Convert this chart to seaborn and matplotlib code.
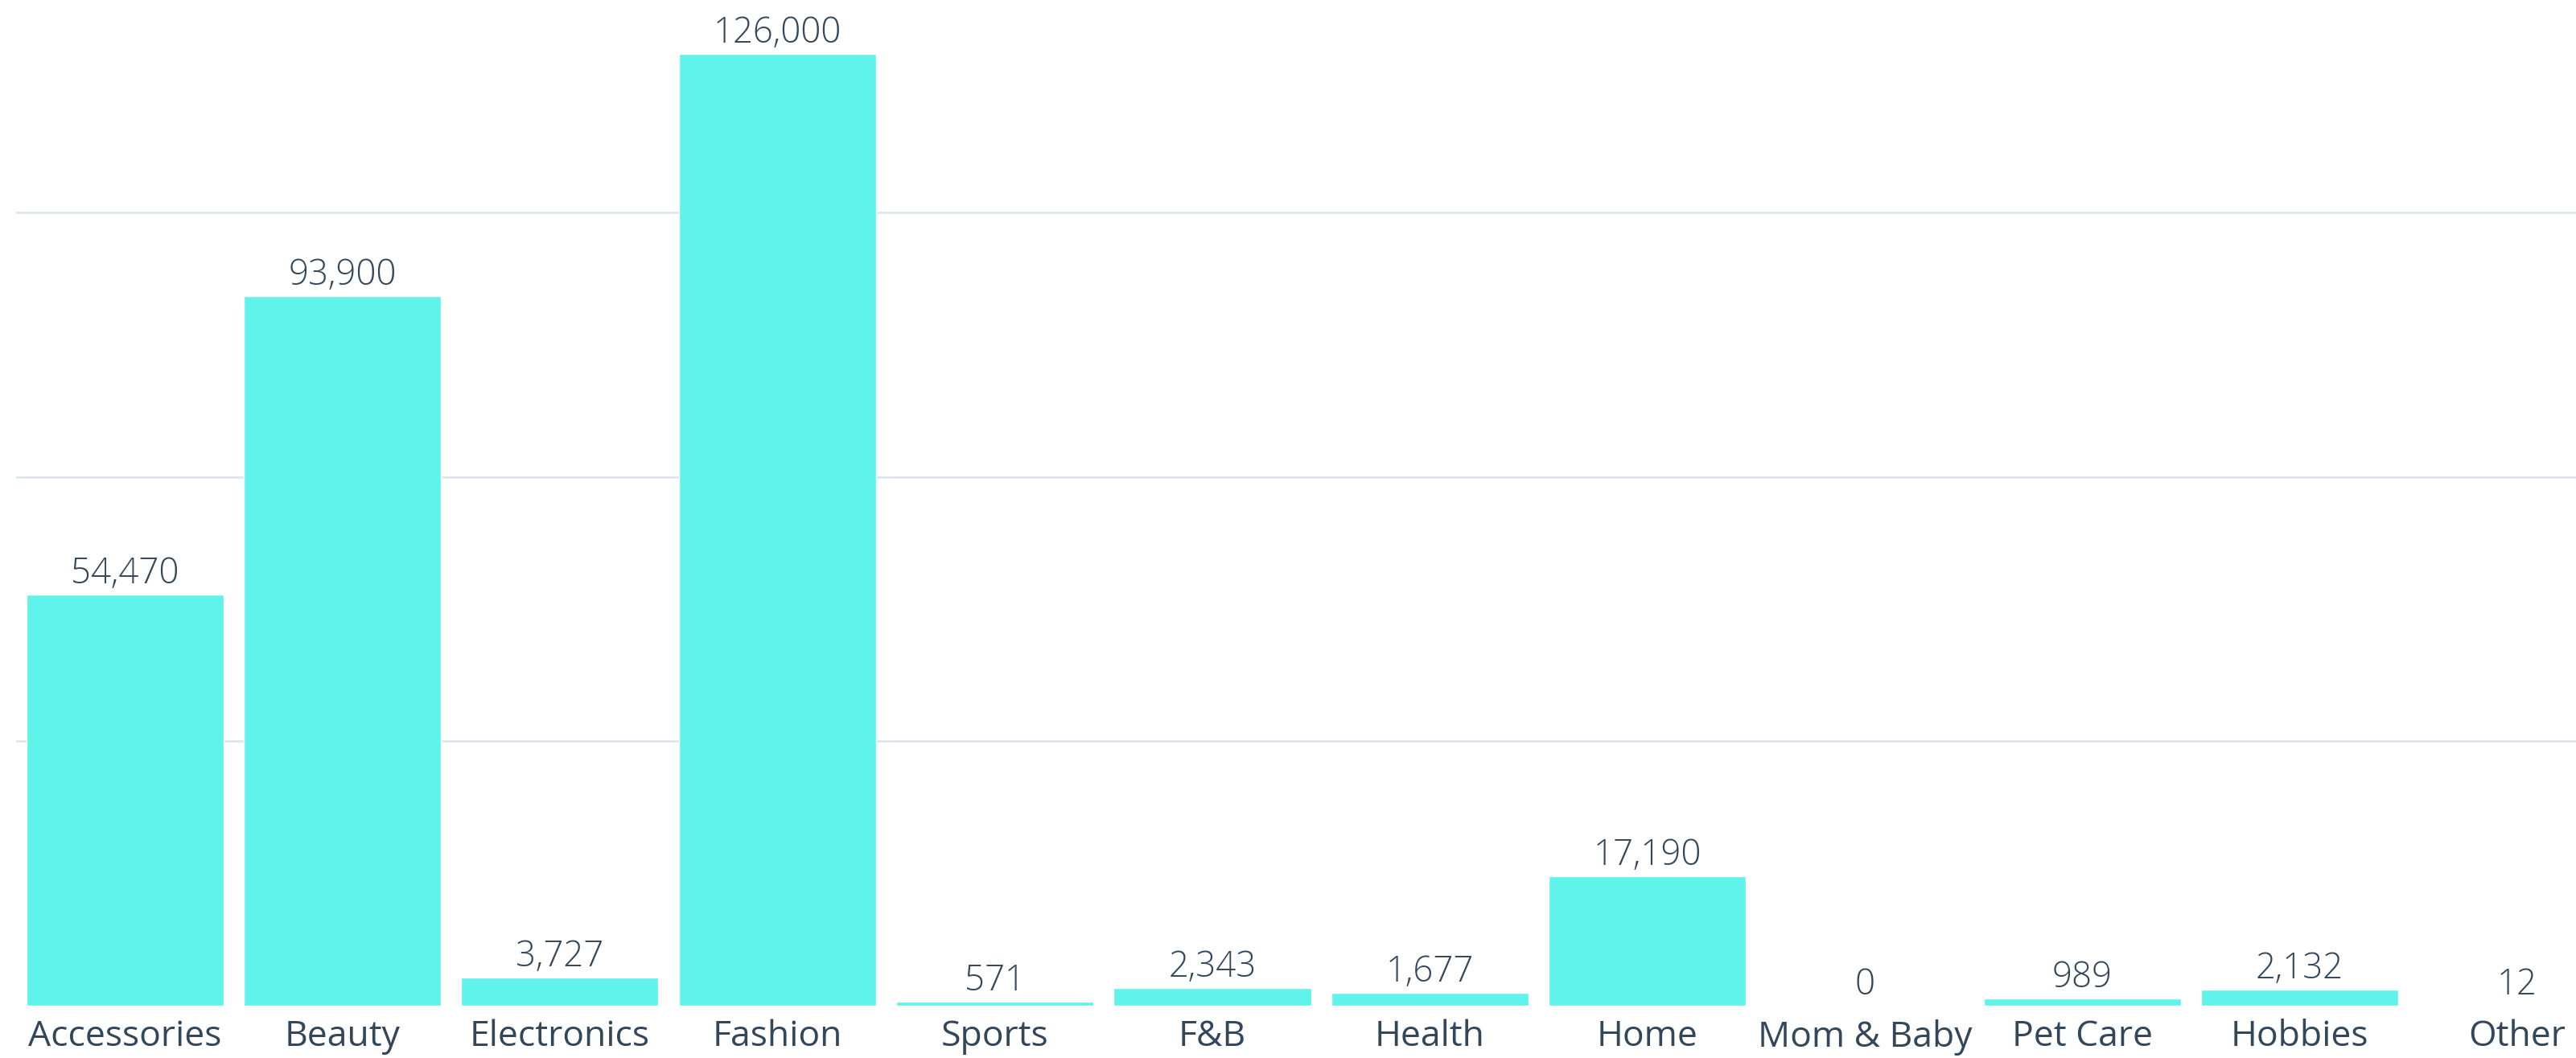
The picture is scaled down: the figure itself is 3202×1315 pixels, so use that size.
import matplotlib
matplotlib.use("Agg")
import matplotlib.pyplot as plt
import seaborn as sns
import pandas as pd

categories = ["Accessories", "Beauty", "Electronics", "Fashion", "Sports", "F&B",
              "Health", "Home", "Mom & Baby", "Pet Care", "Hobbies", "Other"]
counts = [54470, 93900, 3727, 126000, 571, 2343, 1677, 17190, 0, 989, 2132, 12]
grid_values = [35000, 70000, 105000]

BAR_COLOR = "#5FF3EC"
TEXT_COLOR = "#33475B"
GRID_COLOR = "#DCE5EE"

sns.set_theme(style="white")
plt.rcParams["font.family"] = ["Open Sans", "DejaVu Sans"]

df = pd.DataFrame({"category": categories, "count": counts})

fig = plt.figure(figsize=(32.02, 13.15), dpi=100)
ax = fig.add_axes([20 / 3202, 65 / 1315, 1 - 20 / 3202, 1 - 65 / 1315])

sns.barplot(data=df, x="category", y="count", color=BAR_COLOR, saturation=1,
            width=0.907, ax=ax, zorder=3)

ax.set_xlim(-0.5, 11.27)
ax.set_ylim(0, 133130)
ax.set_yticks(grid_values)
ax.set_yticklabels([])
ax.yaxis.grid(True, color=GRID_COLOR, linewidth=1.9, zorder=0)
ax.xaxis.grid(False)
ax.set_axisbelow(True)
for side in ax.spines.values():
    side.set_visible(False)
ax.set_xlabel("")
ax.set_ylabel("")
ax.tick_params(axis="x", length=0, pad=12, labelsize=32, labelcolor=TEXT_COLOR)
ax.tick_params(axis="y", length=0)

for i, v in enumerate(counts):
    ax.annotate(f"{v:,}", xy=(i, v), xytext=(0, 10), textcoords="offset points",
                ha="center", va="baseline", fontsize=31.5, fontweight=300,
                color=TEXT_COLOR)

fig.savefig("out.png", dpi=100, facecolor="white")
